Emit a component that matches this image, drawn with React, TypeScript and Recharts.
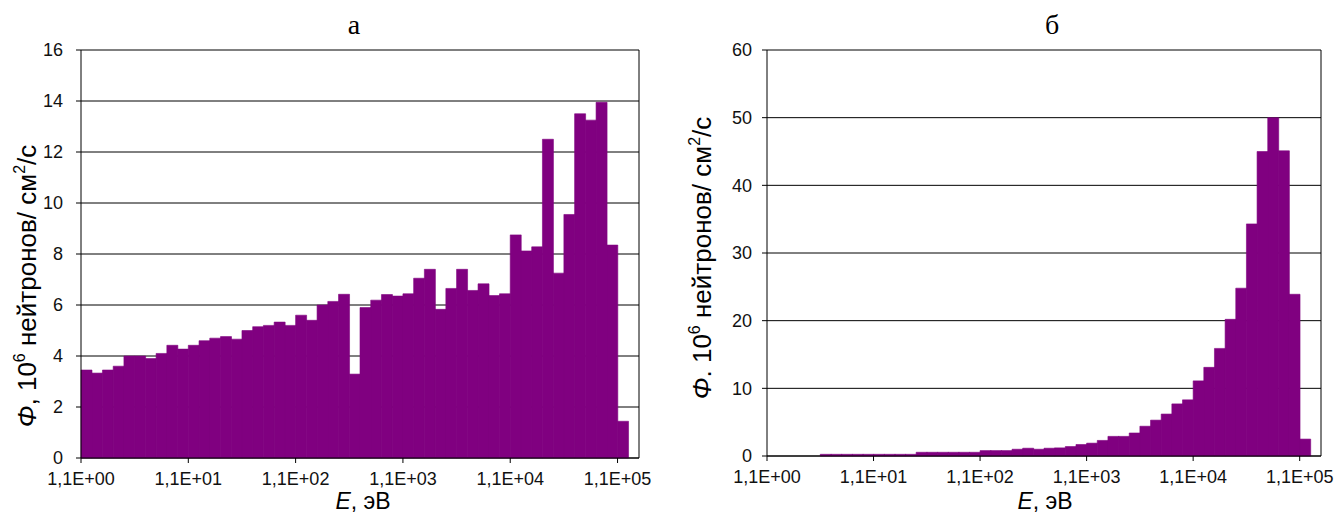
import * as React from "react";
import { Bar, BarChart, CartesianGrid, ReferenceLine, XAxis, YAxis } from "recharts";

// Two neutron flux spectra (а, б), 10 groups per energy decade,
// drawn as gapless columns on a category axis of 52 bins.

const FLUX_A: (number | null)[] = [
  3.45, 3.33, 3.45, 3.6, 4.0, 4.0, 3.9, 4.1, 4.42, 4.27,
  4.42, 4.6, 4.7, 4.76, 4.66, 5.0, 5.15, 5.2, 5.33, 5.2,
  5.6, 5.4, 6.0, 6.14, 6.42, 3.29, 5.9, 6.19, 6.41, 6.35,
  6.44, 7.05, 7.4, 5.83, 6.65, 7.4, 6.57, 6.83, 6.37, 6.44,
  8.75, 8.12, 8.28, 12.5, 7.25, 9.55, 13.5, 13.25, 13.95, 8.35,
  1.44, null,
];

const FLUX_B: (number | null)[] = [
  null, null, null, null, null, 0.25, 0.25, 0.25, 0.25, 0.25,
  0.25, 0.25, 0.25, 0.25, 0.55, 0.55, 0.55, 0.55, 0.55, 0.55,
  0.8, 0.8, 0.8, 1.0, 1.15, 1.0, 1.15, 1.2, 1.4, 1.7,
  1.9, 2.3, 2.9, 2.9, 3.4, 4.4, 5.3, 6.2, 7.7, 8.3,
  11.1, 13.1, 15.9, 20.2, 24.8, 34.3, 45.0, 50.0, 45.1, 23.9,
  2.5, null,
];

const X_TICK_BINS = [0, 10, 20, 30, 40, 50];
const X_TICK_LABELS = ["1,1E+00", "1,1E+01", "1,1E+02", "1,1E+03", "1,1E+04", "1,1E+05"];
const Y_TICKS_A = [0, 2, 4, 6, 8, 10, 12, 14, 16];
const Y_TICKS_B = [0, 10, 20, 30, 40, 50, 60];

const FONT = "'Liberation Sans', Arial, sans-serif";
const SERIF = "'Liberation Serif', 'Times New Roman', serif";
const PURPLE = "#800080";
const BIN_COUNT = FLUX_A.length;

function toRows(values: (number | null)[]) {
  return values.map((v, i) => ({ bin: i, flux: v }));
}

function tickLabel(v: number): string {
  const idx = X_TICK_BINS.indexOf(v);
  return idx >= 0 ? X_TICK_LABELS[idx] : "";
}

function SpectrumChart({
  values,
  yTicks,
  width,
  yAxisWidth,
  right,
  bottom,
  tickMargin,
}: {
  values: (number | null)[];
  yTicks: number[];
  width: number;
  yAxisWidth: number;
  right: number;
  bottom: number;
  tickMargin: number;
}) {
  const rows = React.useMemo(() => toRows(values), [values]);
  const yMax = yTicks[yTicks.length - 1];
  const tickStyle = { fontSize: 18, fill: "#111", fontFamily: FONT };
  return (
    <BarChart
      width={width}
      height={529}
      data={rows}
      margin={{ top: 50, right, bottom, left: 0 }}
      barCategoryGap={0}
      barGap={0}
    >
      <CartesianGrid vertical={false} stroke="#000" strokeWidth={1} />
      <XAxis dataKey="bin" hide height={0} />
      <XAxis
        xAxisId="num"
        dataKey="bin"
        type="number"
        domain={[0, BIN_COUNT]}
        ticks={X_TICK_BINS}
        tickFormatter={tickLabel}
        interval={0}
        height={30}
        tickSize={5}
        tickMargin={9}
        axisLine={{ stroke: "#000" }}
        tickLine={{ stroke: "#000" }}
        tick={tickStyle}
      />
      <YAxis
        domain={[0, yMax]}
        ticks={yTicks}
        interval={0}
        width={yAxisWidth}
        tickSize={5}
        tickMargin={tickMargin}
        axisLine={{ stroke: "#000" }}
        tickLine={{ stroke: "#000" }}
        tick={tickStyle}
      />
      <ReferenceLine xAxisId="num" x={BIN_COUNT} stroke="#000" strokeWidth={1} />
      <Bar
        dataKey="flux"
        fill={PURPLE}
        stroke={PURPLE}
        strokeWidth={0.6}
        isAnimationActive={false}
      />
    </BarChart>
  );
}

function YTitle({ x, y, sep }: { x: number; y: number; sep: string }) {
  return (
    <text
      transform={`translate(${x},${y}) rotate(-90)`}
      textAnchor="middle"
      fontFamily={FONT}
      fontSize={26}
      fill="#000"
    >
      <tspan fontStyle="italic">Φ</tspan>
      <tspan>{sep} 10</tspan>
      <tspan fontSize={16} dy={-11}>6</tspan>
      <tspan dy={11}> нейтронов/ см</tspan>
      <tspan fontSize={16} dy={-11}>2</tspan>
      <tspan dy={11}>/с</tspan>
    </text>
  );
}

function XTitle({ x, y }: { x: number; y: number }) {
  return (
    <text x={x} y={y} textAnchor="middle" fontFamily={FONT} fontSize={23} fill="#000">
      <tspan fontStyle="italic">E</tspan>
      <tspan>, эВ</tspan>
    </text>
  );
}

export default function App() {
  return (
    <div
      style={{
        position: "absolute",
        left: 0,
        top: 0,
        width: 1344,
        height: 529,
        background: "#fff",
        overflow: "hidden",
      }}
    >
      <div style={{ position: "absolute", left: 0, top: 0 }}>
        <SpectrumChart
          values={FLUX_A}
          yTicks={Y_TICKS_A}
          width={680}
          yAxisWidth={81}
          right={41}
          bottom={41}
          tickMargin={13}
        />
      </div>
      <div style={{ position: "absolute", left: 680, top: 0 }}>
        <SpectrumChart
          values={FLUX_B}
          yTicks={Y_TICKS_B}
          width={664}
          yAxisWidth={87}
          right={23}
          bottom={43}
          tickMargin={10}
        />
      </div>
      <svg
        width={1344}
        height={529}
        style={{ position: "absolute", left: 0, top: 0, pointerEvents: "none" }}
      >
        <text x={354} y={34} textAnchor="middle" fontFamily={SERIF} fontSize={28}>
          а
        </text>
        <text x={1052} y={34} textAnchor="middle" fontFamily={SERIF} fontSize={28}>
          б
        </text>
        <YTitle x={36} y={286} sep="," />
        <YTitle x={711} y={258} sep="." />
        <XTitle x={363} y={509} />
        <XTitle x={1045} y={509} />
      </svg>
    </div>
  );
}
